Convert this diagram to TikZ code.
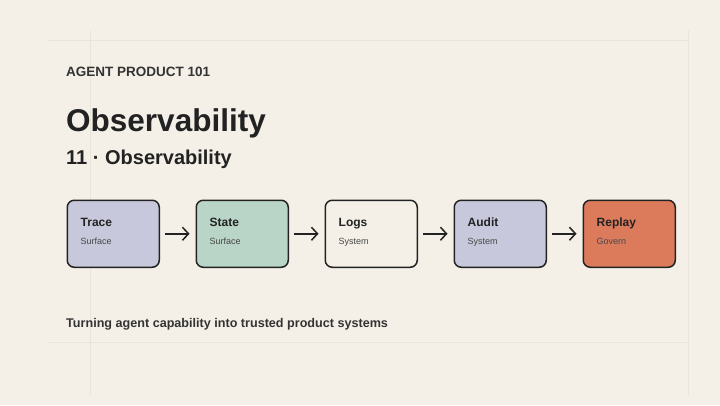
\documentclass[tikz,border=0pt]{standalone}
\usepackage{fontspec}
\setmainfont{Liberation Sans}
\usetikzlibrary{positioning, arrows.meta}

\definecolor{paper}{HTML}{F4F0E8}
\definecolor{ink}{HTML}{222222}
\definecolor{lilac}{HTML}{C8C8DC}
\definecolor{sage}{HTML}{B9D5C8}
\definecolor{clay}{HTML}{DC7B5C}
\definecolor{rule}{HTML}{EAE5DB}

\tikzset{
	stage/.style={draw=ink, line width=1.5pt, rounded corners=7pt,
		minimum width=92pt, minimum height=67pt, inner sep=0pt},
	flow/.style={-{Straight Barb[length=6pt, width=13pt]}, line width=1.5pt, draw=ink},
	head/.style={anchor=base west, inner sep=0pt, font=\bfseries\fontsize{12}{14}\selectfont, text=ink},
	sub/.style={anchor=base west, inner sep=0pt, font=\fontsize{9}{11}\selectfont, text=black!72}
}

\begin{document}
\begin{tikzpicture}[x=1pt, y=-1pt]
	\fill[paper] (0,0) rectangle (720,405);
	\useasboundingbox (0,0) rectangle (720,405);
	\draw[rule] (48,40) -- (688,40);
	\draw[rule] (48,342) -- (688,342);
	\draw[rule] (90,30) -- (90,395);
	\draw[rule] (688,30) -- (688,395);

	\node[anchor=base west, inner sep=0pt, font=\bfseries\fontsize{13.5}{15}\selectfont, text=black!80] (kicker) at (66,76) {AGENT PRODUCT 101};
	\node[anchor=base west, inner sep=0pt, font=\bfseries\fontsize{31.5}{38}\selectfont, text=ink] (title) at (66,131) {Observability};
	\node[anchor=base west, inner sep=0pt, font=\bfseries\fontsize{20}{24}\selectfont, text=ink] (subtitle) at (66,164) {11 · Observability};

	\node[stage, fill=lilac, anchor=north west] (trace) at (66.5,199.5) {};
	\node[stage, fill=sage, right=35.5pt of trace] (state) {};
	\node[stage, fill=paper, right=35.5pt of state] (logs) {};
	\node[stage, fill=lilac, right=35.5pt of logs] (audit) {};
	\node[stage, fill=clay, right=35.5pt of audit] (replay) {};

	\foreach \n/\t/\s in {trace/Trace/Surface, state/State/Surface, logs/Logs/System, audit/Audit/System, replay/Replay/Govern} {
		\node[head] at ([xshift=14pt, yshift=-27pt]\n.north west) {\t};
		\node[sub] at ([xshift=14pt, yshift=-45pt]\n.north west) {\s};
	}

	\draw[flow] ([xshift=5pt]trace.east) -- ([xshift=-6pt]state.west);
	\draw[flow] ([xshift=5pt]state.east) -- ([xshift=-6pt]logs.west);
	\draw[flow] ([xshift=5pt]logs.east) -- ([xshift=-6pt]audit.west);
	\draw[flow] ([xshift=5pt]audit.east) -- ([xshift=-6pt]replay.west);

	\node[anchor=base west, inner sep=0pt, font=\bfseries\fontsize{12.6}{15}\selectfont, text=black!80] (tagline) at (66,327) {Turning agent capability into trusted product systems};
\end{tikzpicture}
\end{document}
